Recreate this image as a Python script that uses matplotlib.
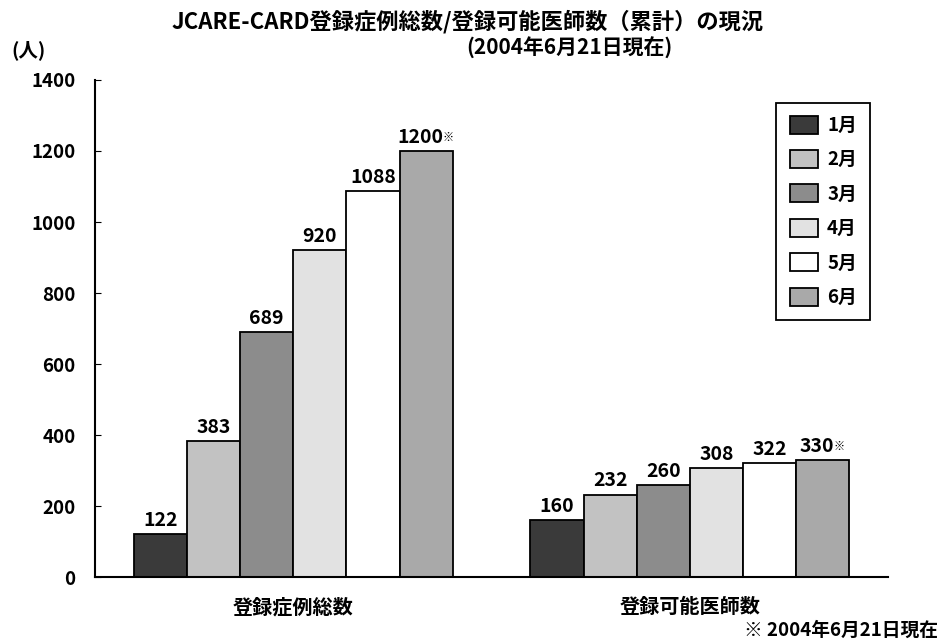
import numpy as np
from matplotlib import pyplot as plt

plt.rcParams['font.family'] = ['Noto Sans CJK JP', 'DejaVu Sans']

# data
groups = ['登録症例総数', '登録可能医師数']
months = ['1月', '2月', '3月', '4月', '5月', '6月']
cases = [122, 383, 689, 920, 1088, 1200]
doctors = [160, 232, 260, 308, 322, 330]
colors = ['#3a3a3a', '#c2c2c2', '#8c8c8c', '#e2e2e2', '#ffffff', '#a9a9a9']

fig = plt.figure(figsize=(9.41, 6.42), dpi=100)
ax = fig.add_axes([0.101, 0.1012, 0.8427, 0.7742])

x = np.arange(len(groups))
w = 0.134
for i, m in enumerate(months):
    vals = [cases[i], doctors[i]]
    pos = x + (i - 2.5) * w
    ax.bar(pos, vals, width=w, color=colors[i], edgecolor='black',
           linewidth=1.3, label=m)
    for p, v in zip(pos, vals):
        s = str(v)
        if i == 5:
            # last month is marked with ※ (as of 2004-06-21)
            ax.annotate(s, (p, v), xytext=(-4, 3), textcoords='offset points',
                        ha='center', va='bottom', fontsize=14, fontweight='bold')
            ax.annotate('※', (p, v), xytext=(-3.5 + len(s) * 3.85, 5),
                        textcoords='offset points', ha='left', va='bottom',
                        fontsize=8, fontweight='bold')
        else:
            ax.annotate(s, (p, v), xytext=(0, 3), textcoords='offset points',
                        ha='center', va='bottom', fontsize=14, fontweight='bold')

ax.set_xlim(-0.5, 1.5)
ax.set_ylim(0, 1400)
ax.set_yticks(range(0, 1401, 200))
ax.tick_params(axis='y', direction='in', length=4, labelsize=13.5, pad=14)
ax.set_xticks(x)
ax.set_xticklabels(groups, fontsize=14.5, fontweight='bold')
ax.tick_params(axis='x', length=0, pad=14)
for lab in ax.get_yticklabels():
    lab.set_fontweight('bold')
for s in ['top', 'right']:
    ax.spines[s].set_visible(False)
for s in ['left', 'bottom']:
    ax.spines[s].set_linewidth(1.5)

leg = ax.legend(loc='upper left', bbox_to_anchor=(0.8475, 0.9735),
                frameon=True, fancybox=False, framealpha=1,
                handlelength=1.5, handleheight=1.1, handletextpad=0.5,
                labelspacing=0.8, borderpad=0.7, prop={'weight': 'bold', 'size': 13.5})
leg.get_frame().set_edgecolor('black')
leg.get_frame().set_linewidth(1.3)

fig.text(0.497, 0.966, 'JCARE-CARD登録症例総数/登録可能医師数（累計）の現況',
         ha='center', va='center', fontsize=16, fontweight='bold')
fig.text(0.605, 0.925, '(2004年6月21日現在)', ha='center', va='center',
         fontsize=15, fontweight='bold')
fig.text(0.03, 0.922, '(人)', ha='center', va='center', fontsize=14,
         fontweight='bold')
fig.text(0.997, 0.018, '※ 2004年6月21日現在', ha='right', va='center',
         fontsize=13.5, fontweight='bold')

fig.savefig('out.png', dpi=100)
